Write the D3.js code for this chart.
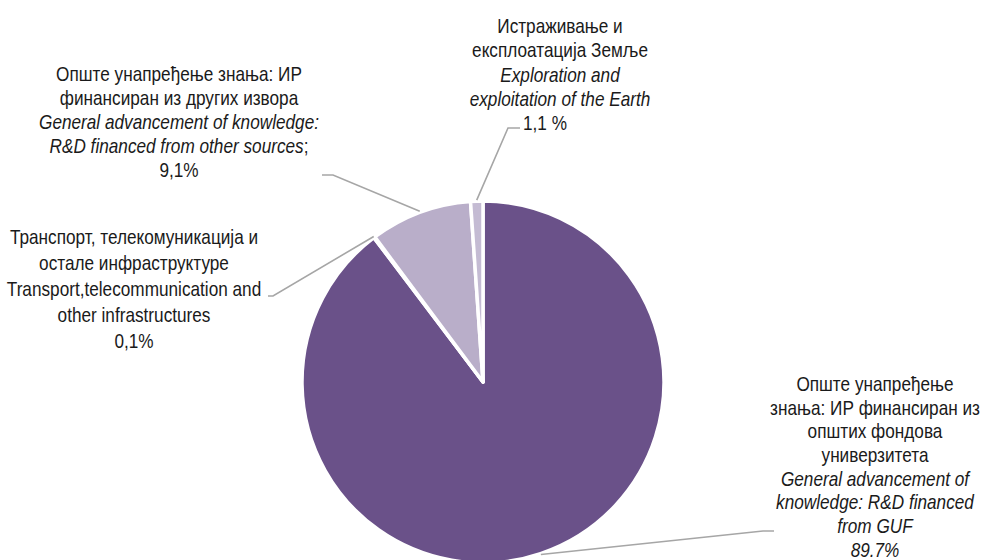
<!DOCTYPE html>
<html>
<head>
<meta charset="utf-8">
<script src="https://cdn.jsdelivr.net/npm/d3@7"></script>
<style>
  html, body { margin: 0; padding: 0; background: #fff; }
  svg text { font-family: "Liberation Sans", Arial, sans-serif; fill: #1a1a1a; }
</style>
</head>
<body>
<div id="chart"></div>
<script>
// ---------- Data ----------
const categories = ["GUF", "Transport", "OtherSources", "Earth"];
const values = [89.7, 0.1, 9.1, 1.1];
const sliceColors = ["#6a5189", "#e2dcea", "#b9aec9", "#c4bbd3"];

// label text, one entry per line: [text, italic]
const labelGUF = [
  [["Опште унапређење", 0]],
  [["знања: ИР финансиран из", 0]],
  [["општих фондова", 0]],
  [["универзитета", 0]],
  [["General advancement of", 1]],
  [["knowledge: R&D financed", 1]],
  [["from GUF", 1]],
  [["89.7%", 1]]
];
const labelTransport = [
  [["Транспорт, телекомуникација и", 0]],
  [["остале инфраструктуре", 0]],
  [["Transport,telecommunication and", 0]],
  [["other infrastructures", 0]],
  [["0,1%", 0]]
];
const labelOther = [
  [["Опште унапређење знања: ИР", 0]],
  [["финансиран из других извора", 0]],
  [["General advancement of knowledge:", 1]],
  [["R&D financed from other sources", 1], [";", 0]],
  [["9,1%", 0]]
];
const labelEarth = [
  [["Истраживање и", 0]],
  [["експлоатација Земље", 0]],
  [["Exploration and", 1]],
  [["exploitation of the Earth", 1]],
  [["1,1 %", 0]]
];
const labels = [labelGUF, labelTransport, labelOther, labelEarth];

// ---------- Layout ----------
const width = 989, height = 560;
const cx = 483, cy = 382, radius = 181;
const narrow = 0.86;  // mimic Arial Narrow
// label block: centre x, first baseline y, line height, per-line x shift
const labelPos = [
  { x: 875, y: 391, lh: 23.7, shift: {} },
  { x: 134, y: 244, lh: 26, shift: {} },
  { x: 179, y: 81, lh: 24, shift: {} },
  { x: 560, y: 33, lh: 24.3, shift: { 4: -15 } }
];
// leader elbows: [elbow point, end point]
const leaders = [
  [[763, 531], [774, 531]],
  [[273, 296], [268, 296]],
  [[333, 175], [322, 175]],
  [[508, 128], [520, 128]]
];

const svg = d3.select("#chart").append("svg")
  .attr("width", width).attr("height", height);

const pie = d3.pie().sort(null).value(d => d)(values);
const arc = d3.arc().innerRadius(0).outerRadius(radius);

const g = svg.append("g").attr("transform", `translate(${cx},${cy})`);

g.selectAll("path.slice")
  .data(pie).join("path")
    .attr("class", "slice")
    .attr("d", arc)
    .attr("fill", (d, i) => sliceColors[i])
    .attr("stroke", "#fff")
    .attr("stroke-width", 3.5)
    .attr("stroke-linejoin", "round");

// leader lines: start on slice edge at mid angle
const line = d3.line();
svg.append("g").selectAll("path.leader")
  .data(pie).join("path")
    .attr("class", "leader")
    .attr("fill", "none")
    .attr("stroke", "#a6a6a6")
    .attr("stroke-width", 1.6)
    .attr("d", (d, i) => {
      const a = (d.startAngle + d.endAngle) / 2;
      const r = radius + 1;
      const start = [cx + r * Math.sin(a), cy - r * Math.cos(a)];
      return line([start, leaders[i][0], leaders[i][1]]);
    });

// labels
labels.forEach((lines, i) => {
  const p = labelPos[i];
  const t = svg.append("text")
    .attr("transform", `translate(${p.x},0) scale(${narrow},1)`)
    .attr("text-anchor", "middle")
    .style("font-size", "20px");
  lines.forEach((parts, j) => {
    parts.forEach((part, k) => {
      const ts = t.append("tspan")
        .text(part[0])
        .style("font-style", part[1] ? "italic" : "normal");
      if (k === 0) ts.attr("x", (p.shift[j] || 0) / narrow).attr("y", p.y + j * p.lh);
    });
  });
});
</script>
</body>
</html>
